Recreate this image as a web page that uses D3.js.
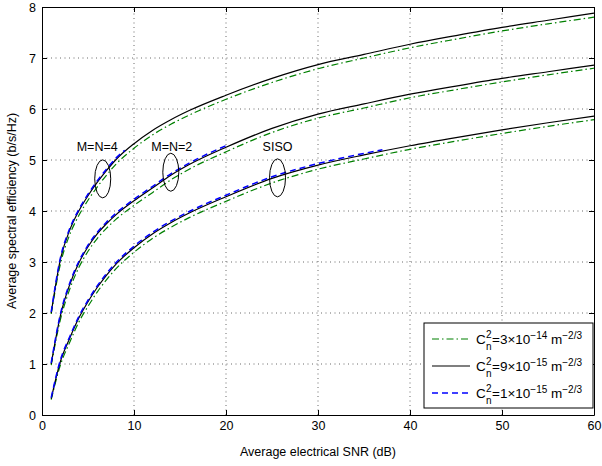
<!DOCTYPE html>
<html>
<head>
<meta charset="utf-8">
<script src="https://cdn.jsdelivr.net/npm/d3@7"></script>
<style>
  body { margin: 0; background: #fff; }
  svg { font-family: "Liberation Sans", Arial, sans-serif; }
</style>
</head>
<body>
<div id="chart"></div>
<script>
// SNR sample points (dB)
var snr = [1, 2, 3, 4, 5, 6, 7, 8, 10, 12, 14, 16, 20, 25, 30, 35, 40, 45, 50, 55, 60];

// C_n^2 = 9e-15 (black solid)
var siso_9 = [0.32, 1.05, 1.5, 1.9, 2.22, 2.5, 2.74, 2.95, 3.28, 3.55, 3.77, 3.96, 4.28, 4.64, 4.9, 5.1, 5.28, 5.44, 5.59, 5.73, 5.86];
var mimo2_9 = [1.0, 1.95, 2.55, 2.98, 3.3, 3.55, 3.75, 3.92, 4.2, 4.45, 4.7, 4.91, 5.25, 5.62, 5.9, 6.1, 6.29, 6.45, 6.6, 6.73, 6.86];
var mimo4_9 = [2.0, 3.05, 3.62, 4.0, 4.3, 4.56, 4.79, 5.0, 5.32, 5.58, 5.79, 5.97, 6.27, 6.6, 6.87, 7.07, 7.27, 7.44, 7.6, 7.74, 7.88];

// C_n^2 = 3e-14 (green dash-dot)
var siso_3 = [0.3, 0.98, 1.42, 1.82, 2.13, 2.41, 2.65, 2.86, 3.19, 3.46, 3.68, 3.87, 4.19, 4.55, 4.82, 5.02, 5.21, 5.37, 5.52, 5.66, 5.79];
var mimo2_3 = [0.98, 1.87, 2.46, 2.89, 3.21, 3.46, 3.66, 3.83, 4.11, 4.36, 4.61, 4.82, 5.16, 5.54, 5.82, 6.02, 6.22, 6.38, 6.53, 6.67, 6.8];
var mimo4_3 = [1.98, 2.96, 3.53, 3.91, 4.21, 4.47, 4.7, 4.91, 5.23, 5.49, 5.7, 5.88, 6.19, 6.52, 6.79, 7.0, 7.2, 7.37, 7.53, 7.67, 7.8];

// C_n^2 = 1e-15 (blue dashed), shorter SNR ranges
var snr_siso_1 = [1, 2, 3, 4, 5, 6, 7, 8, 10, 12, 14, 16, 20, 25, 30, 35, 37];
var siso_1 = [0.34, 1.08, 1.53, 1.93, 2.25, 2.53, 2.77, 2.98, 3.31, 3.58, 3.8, 3.99, 4.31, 4.67, 4.93, 5.13, 5.2];
var snr_mimo2_1 = [1, 2, 3, 4, 5, 6, 7, 8, 10, 12, 14, 16, 20];
var mimo2_1 = [1.02, 1.98, 2.58, 3.01, 3.33, 3.58, 3.78, 3.95, 4.23, 4.48, 4.73, 4.94, 5.28];
var snr_mimo4_1 = [1, 2, 3, 4, 5, 6, 7, 8, 9];
var mimo4_1 = [2.02, 3.08, 3.65, 4.03, 4.33, 4.59, 4.82, 5.03, 5.19];

var xTicks = [0, 10, 20, 30, 40, 50, 60];
var yTicks = [0, 1, 2, 3, 4, 5, 6, 7, 8];

// legend: C_n^2 = m x 10^e
var legMant = [3, 9, 1];
var legExp = ["\u221214", "\u221215", "\u221215"];

// annotations: label, ellipse centre (dB, b/s/Hz)
var annLabels = ["M=N=4", "M=N=2", "SISO"];
var annX = [6.6, 14.0, 25.6];
var annY = [4.63, 4.76, 4.65];
var annTextX = [6.0, 14.1, 25.6];
var annTextY = [5.27, 5.27, 5.27];

var W = 602, H = 466;
var margin = {left: 42, right: 8, top: 7, bottom: 51};

var svg = d3.select("#chart").append("svg")
    .attr("width", W)
    .attr("height", H);

var x = d3.scaleLinear().domain([0, 60]).range([margin.left, W - margin.right]);
var y = d3.scaleLinear().domain([0, 8]).range([H - margin.bottom, margin.top]);

// grid
var grid = svg.append("g")
    .attr("stroke", "#444")
    .attr("stroke-width", 0.8)
    .attr("stroke-dasharray", "1,3.5");
grid.selectAll(".gx").data(xTicks.slice(1, -1)).enter().append("line")
    .attr("x1", function(d) { return x(d); })
    .attr("x2", function(d) { return x(d); })
    .attr("y1", y(0)).attr("y2", y(8));
grid.selectAll(".gy").data(yTicks.slice(1, -1)).enter().append("line")
    .attr("y1", function(d) { return y(d); })
    .attr("y2", function(d) { return y(d); })
    .attr("x1", x(0)).attr("x2", x(60));

// axes (ticks inward, box all round)
var fmt = d3.format("d");
svg.append("g")
    .attr("transform", "translate(0," + y(0) + ")")
    .call(d3.axisBottom(x).tickValues(xTicks).tickSizeInner(-5).tickSizeOuter(0).tickPadding(6).tickFormat(fmt));
svg.append("g")
    .attr("transform", "translate(" + x(0) + ",0)")
    .call(d3.axisLeft(y).tickValues(yTicks).tickSizeInner(-5).tickSizeOuter(0).tickPadding(6).tickFormat(fmt));
svg.append("g")
    .attr("transform", "translate(0," + y(8) + ")")
    .call(d3.axisTop(x).tickValues(xTicks).tickSizeInner(-5).tickSizeOuter(0).tickFormat(""));
svg.append("g")
    .attr("transform", "translate(" + x(60) + ",0)")
    .call(d3.axisRight(y).tickValues(yTicks).tickSizeInner(-5).tickSizeOuter(0).tickFormat(""));

svg.selectAll(".tick text").attr("font-size", 12.5).attr("fill", "#000")
    .attr("font-family", "Liberation Sans, Arial, sans-serif");
svg.selectAll(".domain, .tick line").attr("stroke", "#000");

// axis titles
svg.append("text")
    .attr("x", (x(0) + x(60)) / 2)
    .attr("y", 456)
    .attr("text-anchor", "middle")
    .attr("font-size", 12.5)
    .text("Average electrical SNR (dB)");
svg.append("text")
    .attr("transform", "translate(16," + (y(4)) + ") rotate(-90)")
    .attr("text-anchor", "middle")
    .attr("font-size", 12.5)
    .text("Average spectral efficiency (b/s/Hz)");

// curves
var line = d3.line()
    .x(function(d) { return x(d[0]); })
    .y(function(d) { return y(d[1]); })
    .curve(d3.curveMonotoneX);

function zip(xs, ys) { return xs.map(function(v, i) { return [v, ys[i]]; }); }

var styles = {
  green: {stroke: "#008000", dash: "7,3,1.5,3", width: 1.2},
  black: {stroke: "#000", dash: null, width: 1.2},
  blue: {stroke: "#0000ff", dash: "6,4", width: 1.5}
};

var series = [
  {pts: zip(snr, siso_3), s: styles.green},
  {pts: zip(snr, mimo2_3), s: styles.green},
  {pts: zip(snr, mimo4_3), s: styles.green},
  {pts: zip(snr, siso_9), s: styles.black},
  {pts: zip(snr, mimo2_9), s: styles.black},
  {pts: zip(snr, mimo4_9), s: styles.black},
  {pts: zip(snr_siso_1, siso_1), s: styles.blue},
  {pts: zip(snr_mimo2_1, mimo2_1), s: styles.blue},
  {pts: zip(snr_mimo4_1, mimo4_1), s: styles.blue}
];

svg.append("g").selectAll("path").data(series).enter().append("path")
    .attr("d", function(d) { return line(d.pts); })
    .attr("fill", "none")
    .attr("stroke", function(d) { return d.s.stroke; })
    .attr("stroke-width", function(d) { return d.s.width; })
    .attr("stroke-dasharray", function(d) { return d.s.dash; });

// annotations
var ann = svg.append("g");
annLabels.forEach(function(lab, i) {
  ann.append("ellipse")
      .attr("cx", x(annX[i])).attr("cy", y(annY[i]))
      .attr("rx", 8).attr("ry", 19)
      .attr("fill", "none").attr("stroke", "#000").attr("stroke-width", 1);
  ann.append("text")
      .attr("x", x(annTextX[i])).attr("y", y(annTextY[i]))
      .attr("text-anchor", "middle")
      .attr("dy", "0.35em")
      .attr("font-size", 12.5)
      .text(lab);
});

// legend
var lg = svg.append("g");
var lx = 424, ly = 323, lw = 169, lh = 85;
lg.append("rect")
    .attr("x", lx).attr("y", ly).attr("width", lw).attr("height", lh)
    .attr("fill", "#fff").attr("stroke", "#000").attr("stroke-width", 1);

var legStyles = [styles.green, styles.black, styles.blue];
legStyles.forEach(function(s, i) {
  var cy = ly + 16 + i * 27;
  lg.append("line")
      .attr("x1", lx + 8).attr("x2", lx + 46)
      .attr("y1", cy).attr("y2", cy)
      .attr("stroke", s.stroke).attr("stroke-width", s.width)
      .attr("stroke-dasharray", s.dash);
  var tx = lx + 52;
  lg.append("text").attr("x", tx).attr("y", cy + 5).attr("font-size", 13.5).text("C");
  lg.append("text").attr("x", tx + 10).attr("y", cy - 1).attr("font-size", 10).text("2");
  lg.append("text").attr("x", tx + 10).attr("y", cy + 10.5).attr("font-size", 10).text("n");
  var t = lg.append("text").attr("x", tx + 16).attr("y", cy + 5).attr("font-size", 13.5);
  t.append("tspan").text("=" + legMant[i] + "\u00d710");
  t.append("tspan").attr("dy", -5.5).attr("font-size", 10).text(legExp[i]);
  t.append("tspan").attr("dy", 5.5).text(" m");
  t.append("tspan").attr("dy", -5.5).attr("font-size", 10).text("\u22122/3");
});
</script>
</body>
</html>
